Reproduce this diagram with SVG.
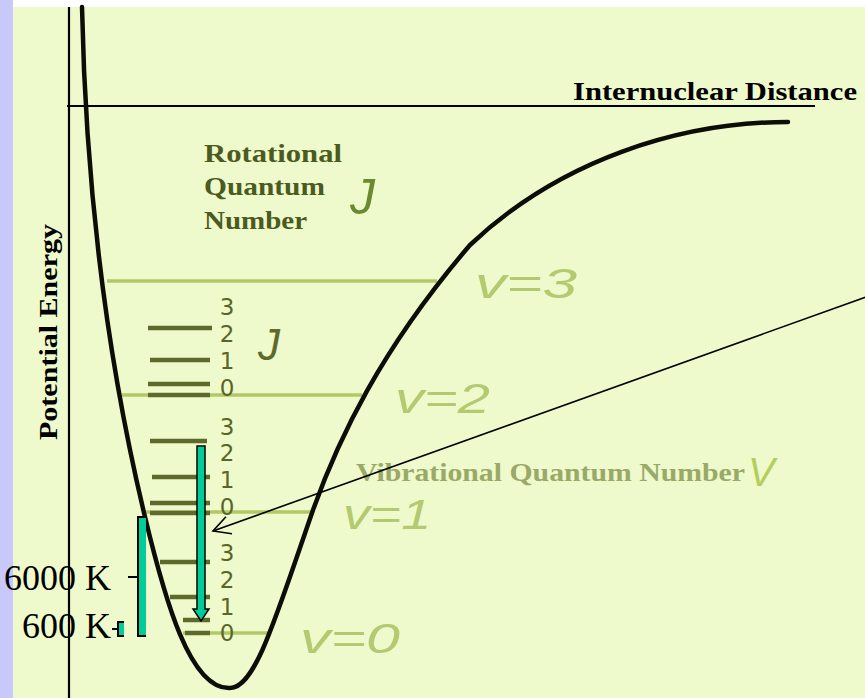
<svg xmlns="http://www.w3.org/2000/svg" width="865" height="698" viewBox="0 0 865 698">
<style>
.ax{stroke:#000;stroke-width:2.2;fill:none}
.curve{stroke:#0d0d08;stroke-width:4.5;fill:none;stroke-linecap:round;stroke-linejoin:round}
.vl{stroke:#b2c867;stroke-width:3.5;fill:none}
.rl{stroke:#5e6a2b;stroke-width:4.5;fill:none}
.vt{font-family:"Liberation Sans",Arial,sans-serif;font-style:italic;font-size:42px;fill:#b3ca70}
.dg{font-family:"DejaVu Sans","Liberation Sans",sans-serif;font-size:23px;fill:#5a6628;text-anchor:middle}
.bs{font-family:"Liberation Serif","Times New Roman",serif;font-weight:bold;font-size:26px}
.kt{font-family:"Liberation Serif","Times New Roman",serif;font-size:36px;fill:#000}
.teal{fill:#00cc99;stroke:#000;stroke-width:1.5}
.brk{stroke:#000;stroke-width:2;fill:none}
</style>
<defs>
<marker id="open" markerUnits="userSpaceOnUse" markerWidth="40" markerHeight="40" refX="0" refY="0" orient="auto" overflow="visible">
<path d="M-17,-9 L0,0 L-17,9" fill="none" stroke="#000" stroke-width="1.6"/>
</marker>
</defs>
<rect x="0" y="0" width="865" height="698" fill="#eefacb"/>
<rect x="13" y="0" width="852" height="7" fill="#ffffff"/>
<rect x="0" y="0" width="13" height="698" fill="#c8c8fa"/>

<g id="axes">
<line class="ax" x1="69" y1="7" x2="69" y2="698"/>
<line class="ax" x1="67" y1="106" x2="815" y2="106"/>
<text class="bs" x="573" y="100" fill="#000" textLength="284" lengthAdjust="spacingAndGlyphs">Internuclear Distance</text>
<text class="bs" transform="translate(57,440) rotate(-90)" x="0" y="0" fill="#000" textLength="216" lengthAdjust="spacingAndGlyphs">Potential Energy</text>
</g>

<g id="vib-levels">
<line class="vl" x1="107" y1="281" x2="437" y2="281"/>
<line class="vl" x1="122" y1="395" x2="362" y2="395"/>
<line class="vl" x1="143" y1="512" x2="314" y2="512"/>
<line class="vl" x1="183" y1="633" x2="268" y2="633"/>
<text class="vt" x="475" y="298" textLength="102" lengthAdjust="spacingAndGlyphs">v=3</text>
<text class="vt" x="395" y="413" textLength="95" lengthAdjust="spacingAndGlyphs">v=2</text>
<text class="vt" x="343" y="529" textLength="88" lengthAdjust="spacingAndGlyphs">v=1</text>
<text class="vt" x="300" y="653" textLength="100" lengthAdjust="spacingAndGlyphs">v=0</text>
</g>

<g id="rot-levels">
<line class="rl" x1="148" y1="328" x2="212" y2="328"/>
<line class="rl" x1="150" y1="360" x2="210" y2="360"/>
<line class="rl" x1="148" y1="384" x2="210" y2="384"/>
<line class="rl" x1="148" y1="395" x2="210" y2="395"/>
<line class="rl" x1="150" y1="441" x2="207" y2="441"/>
<line class="rl" x1="152" y1="477" x2="210" y2="477"/>
<line class="rl" x1="150" y1="503" x2="210" y2="503"/>
<line class="rl" x1="150" y1="513" x2="210" y2="513"/>
<line class="rl" x1="160" y1="562" x2="210" y2="562"/>
<line class="rl" x1="170" y1="597" x2="210" y2="597"/>
<line class="rl" x1="183" y1="620" x2="210" y2="620"/>
<line class="rl" x1="185" y1="633" x2="210" y2="633"/>
<text class="dg" x="227" y="315">3</text>
<text class="dg" x="227" y="342">2</text>
<text class="dg" x="227" y="369">1</text>
<text class="dg" x="227" y="396">0</text>
<text class="dg" x="227" y="435">3</text>
<text class="dg" x="227" y="461">2</text>
<text class="dg" x="227" y="488">1</text>
<text class="dg" x="227" y="515">0</text>
<text class="dg" x="227" y="561">3</text>
<text class="dg" x="227" y="588">2</text>
<text class="dg" x="227" y="615">1</text>
<text class="dg" x="227" y="641">0</text>
<text x="258" y="360" font-family="Liberation Sans,Arial,sans-serif" font-style="italic" font-size="44" fill="#5e6a2b">J</text>
</g>

<g id="morse-curve">
<path class="curve" d="M82,7 C85,150 100,330 145,517 C165,600 190,690 230,688 C255,688 275,620 313,510 C338,440 380,350 470,245 C560,160 680,122 788,122"/>
</g>

<g id="labels">
<text class="bs" x="204" y="162" fill="#4b5a1e" textLength="138" lengthAdjust="spacingAndGlyphs">Rotational</text>
<text class="bs" x="204" y="195" fill="#4b5a1e" textLength="121" lengthAdjust="spacingAndGlyphs">Quantum</text>
<text class="bs" x="204" y="229" fill="#4b5a1e" textLength="103" lengthAdjust="spacingAndGlyphs">Number</text>
<text x="350" y="214" font-family="Liberation Sans,Arial,sans-serif" font-style="italic" font-size="50" fill="#6a8a2e">J</text>
<text class="bs" x="356" y="481" fill="#9aa968" textLength="389" lengthAdjust="spacingAndGlyphs">Vibrational Quantum Number</text>
<text x="748" y="486" font-family="Liberation Sans,Arial,sans-serif" font-style="italic" font-size="40" fill="#b3cf5a">V</text>
</g>

<g id="transition-arrow">
<path class="teal" d="M197,446 H205 V609 H209 L201,621 L193,609 H197 Z"/>
</g>

<g id="range-6000K">
<rect x="138" y="517" width="8" height="119" fill="#00cc99"/>
<path class="brk" d="M146,517 H138 V636 H146"/>
<line class="brk" x1="128" y1="577" x2="138" y2="577"/>
<text class="kt" x="4" y="590">6000 K</text>
</g>

<g id="range-600K">
<rect x="118" y="622" width="6" height="14" fill="#00cc99"/>
<path class="brk" d="M124,622 H118 V636 H124"/>
<line class="brk" x1="112" y1="629" x2="118" y2="629"/>
<text class="kt" x="22" y="638">600 K</text>
</g>

<g id="connectors">
<line x1="866" y1="297" x2="213" y2="531" stroke="#000" stroke-width="1.6" marker-end="url(#open)"/>
</g>
</svg>
